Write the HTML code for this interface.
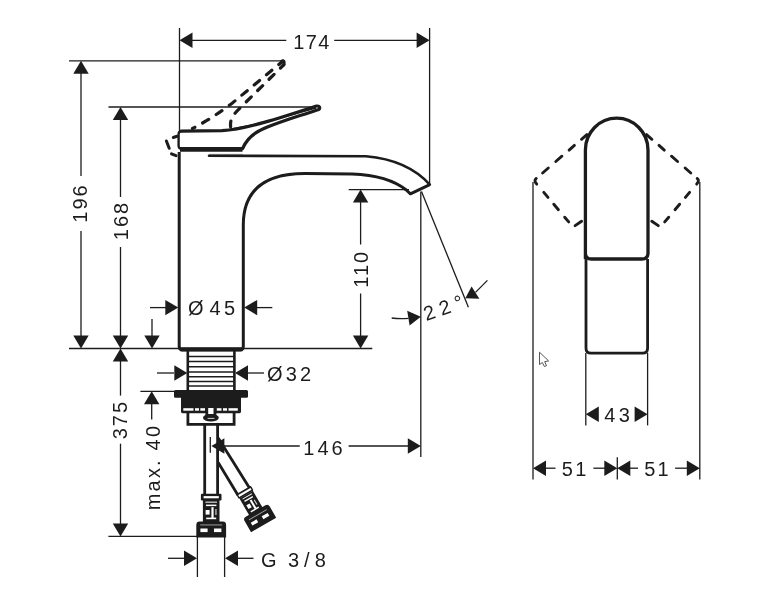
<!DOCTYPE html>
<html><head><meta charset="utf-8"><title>Dimension drawing</title>
<style>
html,body{margin:0;padding:0;background:#fff;}
body{width:771px;height:600px;overflow:hidden;}
svg{display:block;will-change:transform;filter:grayscale(1)}
text{font-family:"Liberation Sans",sans-serif;fill:#1c1c1c;stroke:#fff;stroke-width:0.45px;paint-order:stroke;}
</style></head><body>
<svg width="771" height="600" viewBox="0 0 771 600">
<rect width="771" height="600" fill="#fff"/>
<line x1="179.5" y1="28" x2="179.5" y2="132" stroke="#1c1c1c" stroke-width="1.3" />
<line x1="429.6" y1="28" x2="429.6" y2="184" stroke="#1c1c1c" stroke-width="1.3" />
<line x1="192" y1="40.3" x2="286.3" y2="40.3" stroke="#1c1c1c" stroke-width="1.3" />
<line x1="334.2" y1="40.3" x2="417" y2="40.3" stroke="#1c1c1c" stroke-width="1.3" />
<polygon points="179.5,40.3 192.5,32.6 192.5,48.0" fill="#1c1c1c"/>
<polygon points="429.6,40.3 416.6,48.0 416.6,32.6" fill="#1c1c1c"/>
<text x="312" y="48.5" font-size="20" letter-spacing="1.3" text-anchor="middle">174</text>
<line x1="69" y1="60.8" x2="282" y2="60.8" stroke="#1c1c1c" stroke-width="1.3" />
<line x1="81" y1="73" x2="81" y2="176" stroke="#1c1c1c" stroke-width="1.3" />
<line x1="81" y1="231" x2="81" y2="337" stroke="#1c1c1c" stroke-width="1.3" />
<polygon points="81.0,60.8 88.7,73.8 73.3,73.8" fill="#1c1c1c"/>
<polygon points="81.0,348.5 73.3,335.5 88.7,335.5" fill="#1c1c1c"/>
<text x="87" y="203" font-size="20" letter-spacing="2" text-anchor="middle" transform="rotate(-90 87 203)">196</text>
<line x1="108.5" y1="107" x2="313" y2="107" stroke="#1c1c1c" stroke-width="1.3" />
<line x1="120.5" y1="119" x2="120.5" y2="197" stroke="#1c1c1c" stroke-width="1.3" />
<line x1="120.5" y1="247" x2="120.5" y2="337" stroke="#1c1c1c" stroke-width="1.3" />
<polygon points="120.5,107.0 128.2,120.0 112.8,120.0" fill="#1c1c1c"/>
<polygon points="120.5,348.5 112.8,335.5 128.2,335.5" fill="#1c1c1c"/>
<text x="127.5" y="220.5" font-size="20" letter-spacing="2" text-anchor="middle" transform="rotate(-90 127.5 220.5)">168</text>
<line x1="69" y1="348.5" x2="372.3" y2="348.5" stroke="#1c1c1c" stroke-width="1.3" />
<polygon points="120.5,348.5 128.2,361.5 112.8,361.5" fill="#1c1c1c"/>
<line x1="120.5" y1="360" x2="120.5" y2="395.6" stroke="#1c1c1c" stroke-width="1.3" />
<line x1="120.5" y1="443.7" x2="120.5" y2="525" stroke="#1c1c1c" stroke-width="1.3" />
<polygon points="120.5,536.4 112.8,523.4 128.2,523.4" fill="#1c1c1c"/>
<text x="127.5" y="419.6" font-size="20" letter-spacing="2" text-anchor="middle" transform="rotate(-90 127.5 419.6)">375</text>
<line x1="108.4" y1="536.4" x2="197" y2="536.4" stroke="#1c1c1c" stroke-width="1.3" />
<line x1="152" y1="319" x2="152" y2="337" stroke="#1c1c1c" stroke-width="1.3" />
<polygon points="152.0,348.5 144.3,335.5 159.7,335.5" fill="#1c1c1c"/>
<line x1="140.4" y1="391.3" x2="175" y2="391.3" stroke="#1c1c1c" stroke-width="1.3" />
<polygon points="151.7,391.3 159.4,404.3 144.0,404.3" fill="#1c1c1c"/>
<line x1="151.7" y1="403" x2="151.7" y2="419.6" stroke="#1c1c1c" stroke-width="1.3" />
<text x="160.2" y="467" font-size="20" letter-spacing="2.2" text-anchor="middle" transform="rotate(-90 160.2 467)">max. 40</text>
<line x1="150" y1="307.6" x2="166" y2="307.6" stroke="#1c1c1c" stroke-width="1.3" />
<polygon points="178.3,307.6 165.3,315.3 165.3,299.9" fill="#1c1c1c"/>
<line x1="257" y1="307.6" x2="272.3" y2="307.6" stroke="#1c1c1c" stroke-width="1.3" />
<polygon points="244.2,307.6 257.2,299.9 257.2,315.3" fill="#1c1c1c"/>
<text x="188" y="315" font-size="20" letter-spacing="0" text-anchor="start">Ø</text>
<text x="209.6" y="315" font-size="20" letter-spacing="3.4" text-anchor="start">45</text>
<line x1="157" y1="373" x2="174" y2="373" stroke="#1c1c1c" stroke-width="1.3" />
<polygon points="187.3,373.0 174.3,380.7 174.3,365.3" fill="#1c1c1c"/>
<line x1="248" y1="373" x2="264" y2="373" stroke="#1c1c1c" stroke-width="1.3" />
<polygon points="235.0,373.0 248.0,365.3 248.0,380.7" fill="#1c1c1c"/>
<text x="267" y="381" font-size="20" letter-spacing="3.2" text-anchor="start">Ø32</text>
<line x1="348.7" y1="189.6" x2="409" y2="189.6" stroke="#1c1c1c" stroke-width="1.3" />
<polygon points="360.6,189.6 368.3,202.6 352.9,202.6" fill="#1c1c1c"/>
<line x1="360.6" y1="201" x2="360.6" y2="244.5" stroke="#1c1c1c" stroke-width="1.3" />
<line x1="360.6" y1="293.5" x2="360.6" y2="337" stroke="#1c1c1c" stroke-width="1.3" />
<polygon points="360.6,348.5 352.9,335.5 368.3,335.5" fill="#1c1c1c"/>
<text x="367.6" y="268.8" font-size="20" letter-spacing="2" text-anchor="middle" transform="rotate(-90 367.6 268.8)">110</text>
<line x1="420.8" y1="191.5" x2="420.8" y2="457" stroke="#1c1c1c" stroke-width="1.3" />
<line x1="421.5" y1="191.5" x2="468.4" y2="307.3" stroke="#1c1c1c" stroke-width="1.3" />
<path d="M391.7,318.0 Q400,319.2 408.5,318.3" fill="none" stroke="#1c1c1c" stroke-width="1.3"/>
<polygon points="420.8,316.8 407.2,310.8 409.6,325.6" fill="#1c1c1c"/>
<line x1="487.4" y1="280.4" x2="475.5" y2="292.4" stroke="#1c1c1c" stroke-width="1.3" />
<polygon points="465.3,298.2 471.6,286.4 479.4,298.8" fill="#1c1c1c"/>
<text x="426.3" y="321" font-size="20" letter-spacing="5.3" transform="rotate(-19 426.3 321)">22°</text>
<line x1="210.3" y1="437" x2="210.3" y2="452.7" stroke="#1c1c1c" stroke-width="1.3" />
<polygon points="211.4,446.0 224.4,438.3 224.4,453.7" fill="#1c1c1c"/>
<line x1="224" y1="446" x2="299.7" y2="446" stroke="#1c1c1c" stroke-width="1.3" />
<line x1="348.6" y1="446" x2="409" y2="446" stroke="#1c1c1c" stroke-width="1.3" />
<polygon points="420.8,446.0 407.8,453.7 407.8,438.3" fill="#1c1c1c"/>
<text x="324.5" y="454.8" font-size="20" letter-spacing="3" text-anchor="middle">146</text>
<line x1="197.4" y1="537" x2="197.4" y2="577" stroke="#1c1c1c" stroke-width="1.3" />
<line x1="224.6" y1="537" x2="224.6" y2="577" stroke="#1c1c1c" stroke-width="1.3" />
<line x1="168" y1="558.3" x2="185" y2="558.3" stroke="#1c1c1c" stroke-width="1.3" />
<polygon points="197.0,558.3 184.0,566.0 184.0,550.6" fill="#1c1c1c"/>
<line x1="237" y1="558.3" x2="253.5" y2="558.3" stroke="#1c1c1c" stroke-width="1.3" />
<polygon points="225.0,558.3 238.0,550.6 238.0,566.0" fill="#1c1c1c"/>
<text x="261" y="566.5" font-size="20" letter-spacing="0" text-anchor="start">G</text>
<text x="288" y="566.5" font-size="20" letter-spacing="5" text-anchor="start">3/8</text>
<path d="M179.2,152 L179.2,346.5 Q179.2,349.8 182.4,349.8 L240.2,349.8 Q243.3,349.8 243.3,346.5 L243.3,225 C243.3,192 262,173.6 305,173.6 L352,174 C378,175 395,181 406.3,190 L410.4,193.8 L429.8,184.6" fill="none" stroke="#1c1c1c" stroke-width="3" stroke-linejoin="round"/>
<path d="M181.8,349.4 L240.8,349.4" stroke="#1c1c1c" stroke-width="4.4" stroke-linecap="round"/>
<path d="M209,155.8 L366,156.2 C392,158.5 414,167 429.8,184.6" fill="none" stroke="#1c1c1c" stroke-width="2.6" stroke-linejoin="round" stroke-linecap="round"/>
<line x1="209" y1="154.4" x2="243" y2="154.4" stroke="#666" stroke-width="1" />
<path d="M181,131.2 L222,130.6 C245,129.5 280,118 316.5,106 Q320.8,105.8 319.3,109.2 C295,117.5 270,124.5 258,131.5 C250,136 245.5,142 242.6,148.5" fill="none" stroke="#1c1c1c" stroke-width="3.2" stroke-linejoin="round" stroke-linecap="round"/>
<path d="M181,131.2 Q178.6,131.5 178.6,134 L178.6,146 Q178.8,148.6 181,149" fill="none" stroke="#1c1c1c" stroke-width="2.4"/>
<path d="M180,149.4 L242.5,149.4" stroke="#1c1c1c" stroke-width="4.6"/>
<path d="M230,129.2 C260,124.8 290,114.8 316,108" fill="none" stroke="#1c1c1c" stroke-width="1.6"/>
<path d="M192.5,128.5 Q212,118.5 232.4,103 L283,61" fill="none" stroke="#1c1c1c" stroke-width="3.2" stroke-dashoffset="4.3" stroke-dasharray="7 9" stroke-linecap="round"/>
<path d="M230.6,127 C230,118 233,115 240,108 L284,64.5" fill="none" stroke="#1c1c1c" stroke-width="3.2" stroke-dashoffset="1" stroke-dasharray="7 9" stroke-linecap="round"/>
<path d="M281.5,61.2 Q285.5,60 283.6,65" fill="none" stroke="#1c1c1c" stroke-width="3" stroke-linecap="round"/>
<path d="M166.4,141 L169.2,148.3 M171.5,153.8 L176,155.6 M173.3,137.5 L177,136.3" fill="none" stroke="#1c1c1c" stroke-width="3" stroke-linecap="round"/>
<path d="M187.8,351 L187.8,391 M234.4,351 L234.4,391" stroke="#1c1c1c" stroke-width="2.6"/>
<line x1="188" y1="356.5" x2="234" y2="356.5" stroke="#1c1c1c" stroke-width="1.5" />
<line x1="188" y1="361.6" x2="234" y2="361.6" stroke="#1c1c1c" stroke-width="1.5" />
<line x1="188" y1="366.8" x2="234" y2="366.8" stroke="#1c1c1c" stroke-width="1.5" />
<line x1="188" y1="371.9" x2="234" y2="371.9" stroke="#1c1c1c" stroke-width="1.5" />
<line x1="188" y1="376.8" x2="234" y2="376.8" stroke="#1c1c1c" stroke-width="1.5" />
<line x1="188" y1="381.5" x2="234" y2="381.5" stroke="#1c1c1c" stroke-width="1.5" />
<line x1="188" y1="386.1" x2="234" y2="386.1" stroke="#1c1c1c" stroke-width="1.5" />
<rect x="174" y="390" width="74" height="7.7" rx="1.5" fill="#1c1c1c"/>
<path d="M181,397 L241,397 L241,411.5 Q241,413.2 239.5,413.2 L182.5,413.2 Q181,413.2 181,411.5 Z" fill="#1c1c1c"/>
<rect x="205.4" y="407" width="11" height="8" fill="#1c1c1c"/>
<rect x="183.3" y="408.2" width="10.2" height="2.5" fill="#fff"/>
<rect x="195" y="408.2" width="4.0" height="2.5" fill="#fff"/>
<rect x="200.3" y="408.2" width="4.7" height="2.5" fill="#fff"/>
<rect x="216.8" y="408.2" width="4.7" height="2.5" fill="#fff"/>
<rect x="223" y="408.2" width="4.0" height="2.5" fill="#fff"/>
<rect x="228.5" y="408.2" width="9.3" height="2.5" fill="#fff"/>
<rect x="208.2" y="408" width="5.3" height="6.2" fill="#fff"/>
<path d="M187.9,412 L187.9,424.4 L234.1,424.4 L234.1,412" fill="none" stroke="#1c1c1c" stroke-width="2.8"/>
<ellipse cx="210.9" cy="417.8" rx="7.9" ry="3.8" fill="#1c1c1c"/>
<rect x="207.6" y="417.9" width="6.8" height="1" fill="#ccc"/>
<path d="M204.7,425 L204.7,494 M217.6,425 L217.6,494" stroke="#1c1c1c" stroke-width="2.8"/>
<defs><g id="conn">
<rect x="-10.3" y="-3.3" width="20.6" height="6.8" rx="1.2" fill="#1c1c1c"/>
<rect x="-7.6" y="-0.9" width="15.2" height="2.2" fill="#fff"/>
<rect x="-8.3" y="3" width="16.6" height="22" fill="#1c1c1c"/>
<rect x="-5.8" y="4.6" width="11.6" height="1.1" fill="#eee"/>
<rect x="-5.2" y="7.6" width="10.4" height="1.5" fill="#fff"/>
<rect x="-5.6" y="13" width="4" height="4.6" fill="#fff"/>
<rect x="0.2" y="10.2" width="2.2" height="11" fill="#fff"/>
<rect x="-5" y="20.6" width="10" height="1.6" fill="#fff"/>
<rect x="4.2" y="12" width="1.1" height="6" fill="#ddd"/>
<path d="M-14.9,40.5 L-14.9,28.0 Q-14.9,24.6 -11.5,24.6 L11.5,24.6 Q14.9,24.6 14.9,28.0 L14.9,40.5 Z" fill="#1c1c1c"/>
<rect x="-10.8" y="31.5" width="7.2" height="3.6" fill="#fff"/>
<rect x="2.8" y="31.5" width="7.4" height="3.6" fill="#fff"/>
<rect x="-11" y="27.5" width="22" height="0.9" fill="#aaa"/>
</g><g id="conn2">
<rect x="-9.2" y="-2.8" width="18.4" height="5.8" rx="1.2" fill="#1c1c1c"/>
<rect x="-7.6" y="-0.9" width="15.2" height="2.2" fill="#fff"/>
<rect x="-8.3" y="3" width="16.6" height="22" fill="#1c1c1c"/>
<rect x="-5.8" y="4.6" width="11.6" height="1.1" fill="#eee"/>
<rect x="-5.2" y="7.6" width="10.4" height="1.5" fill="#fff"/>
<rect x="-5.6" y="13" width="4" height="4.6" fill="#fff"/>
<rect x="0.2" y="10.2" width="2.2" height="11" fill="#fff"/>
<rect x="-5" y="20.6" width="10" height="1.6" fill="#fff"/>
<rect x="4.2" y="12" width="1.1" height="6" fill="#ddd"/>
<path d="M-15.6,40.5 L-15.6,26.599999999999998 Q-15.6,23.2 -12.2,23.2 L12.2,23.2 Q15.6,23.2 15.6,26.599999999999998 L15.6,40.5 Z" fill="#1c1c1c"/>
<rect x="-10.8" y="31.5" width="7.2" height="3.6" fill="#fff"/>
<rect x="2.8" y="31.5" width="7.4" height="3.6" fill="#fff"/>
<rect x="-11" y="27.5" width="22" height="0.9" fill="#aaa"/>
</g></defs>
<use href="#conn" transform="translate(211.2,497)"/>
<path d="M218.2,438 L250.6,489.8 M218.2,462.6 L238,495.2" stroke="#1c1c1c" stroke-width="2.8"/>
<use href="#conn2" transform="translate(244.8,492.3) rotate(-30) scale(0.93)"/>
<path d="M585.4,259 L585.4,150 A31.3,31.8 0 0 1 648,150 L648,253 Q648,259 642,259 L591.4,259 Q585.4,259 585.4,253" fill="none" stroke="#1c1c1c" stroke-width="3.3"/>
<path d="M586,259 L586,348.2 Q586,353.2 591,353.2 L642.6,353.2 Q647.6,353.2 647.6,348.2 L647.6,259" fill="none" stroke="#1c1c1c" stroke-width="2.8"/>
<line x1="585.8" y1="353" x2="585.8" y2="425.4" stroke="#1c1c1c" stroke-width="1.3" />
<line x1="647.6" y1="353" x2="647.6" y2="425.4" stroke="#1c1c1c" stroke-width="1.3" />
<path d="M586.9,134.6 L581.5,139.3 M574.4,145.4 L569.1,150.1 M561.9,156.2 L555.8,161.5 M548.3,168.0 L542.6,173.0 M536.2,178.5 Q533.5,180.6 536.7,184.1 M543.8,192.4 L548.0,197.4 M553.8,204.2 L558.4,209.7 M564.7,217.2 L568.7,221.9 M575.1,225.6 L581.6,221.2 " fill="none" stroke="#1c1c1c" stroke-width="2.9" stroke-linecap="round" stroke-linejoin="round"/>
<path d="M646.5,134.6 L651.9,139.3 M659.0,145.4 L664.3,150.1 M671.5,156.2 L677.6,161.5 M685.1,168.0 L690.8,173.0 M697.2,178.5 Q699.9,180.6 696.7,184.1 M689.6,192.4 L685.4,197.4 M679.6,204.2 L675.0,209.7 M668.7,217.2 L664.7,221.9 M658.3,225.6 L651.8,221.2 " fill="none" stroke="#1c1c1c" stroke-width="2.9" stroke-linecap="round" stroke-linejoin="round"/>
<line x1="533" y1="182" x2="533" y2="479.4" stroke="#1c1c1c" stroke-width="1.3" />
<line x1="699.8" y1="182" x2="699.8" y2="479.4" stroke="#1c1c1c" stroke-width="1.3" />
<line x1="617.3" y1="457.3" x2="617.3" y2="479.4" stroke="#1c1c1c" stroke-width="1.3" />
<polygon points="585.8,414.2 598.8,406.5 598.8,421.9" fill="#1c1c1c"/>
<polygon points="647.6,414.2 634.6,421.9 634.6,406.5" fill="#1c1c1c"/>
<text x="618.7" y="422" font-size="20" letter-spacing="3.4" text-anchor="middle">43</text>
<polygon points="533.0,468.2 546.0,460.5 546.0,475.9" fill="#1c1c1c"/>
<line x1="545" y1="468.2" x2="555.5" y2="468.2" stroke="#1c1c1c" stroke-width="1.3" />
<line x1="593.4" y1="468.2" x2="605.5" y2="468.2" stroke="#1c1c1c" stroke-width="1.3" />
<polygon points="617.3,468.2 604.3,475.9 604.3,460.5" fill="#1c1c1c"/>
<polygon points="617.3,468.2 630.3,460.5 630.3,475.9" fill="#1c1c1c"/>
<line x1="629.5" y1="468.2" x2="638" y2="468.2" stroke="#1c1c1c" stroke-width="1.3" />
<line x1="675.1" y1="468.2" x2="687" y2="468.2" stroke="#1c1c1c" stroke-width="1.3" />
<polygon points="699.8,468.2 686.8,475.9 686.8,460.5" fill="#1c1c1c"/>
<text x="575.3" y="476" font-size="20" letter-spacing="2.3" text-anchor="middle">51</text>
<text x="657.6" y="476" font-size="20" letter-spacing="2.3" text-anchor="middle">51</text>
<path d="M539.5,352.2 L539.5,364.6 L542.3,362.5 L544.4,366.5 L546.5,365.7 L544.7,361.7 L548.6,360.9 Z" fill="#fff" stroke="#555" stroke-width="1" stroke-linejoin="round"/>
</svg>
</body></html>
